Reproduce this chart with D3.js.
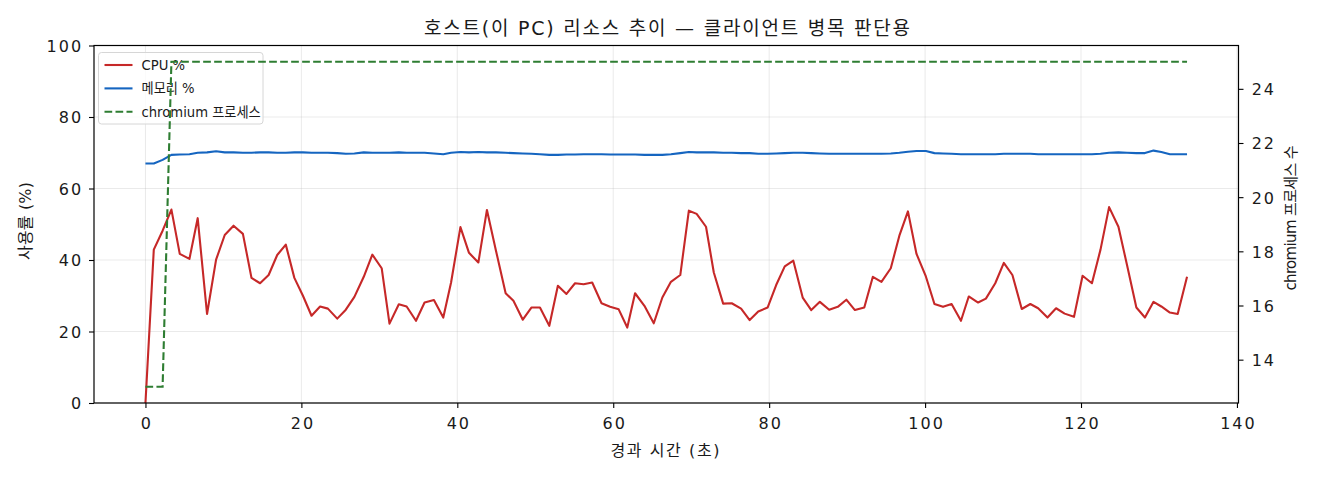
<!DOCTYPE html>
<html><head><meta charset="utf-8">
<script src="https://cdn.jsdelivr.net/npm/d3@7"></script>
<style>
html,body{margin:0;padding:0;background:#fff;}
text{font-family:"DejaVu Sans","Noto Sans CJK KR",sans-serif;fill:#1a1a1a;}
</style></head>
<body>
<svg id="chart" width="1320" height="480"></svg>
<script>
const times = [0,1.07,2.2,3.33,4.4,5.64,6.7,7.9,9.06,10.17,11.3,12.5,13.6,14.7,15.8,16.9,18.0,19.1,20.2,21.3,22.4,23.4,24.6,25.7,26.8,28.0,29.1,30.3,31.3,32.5,33.5,34.7,35.8,37.0,38.2,39.2,40.4,41.5,42.7,43.8,44.96,46.2,47.2,48.4,49.5,50.6,51.8,52.9,54.0,55.1,56.2,57.3,58.5,59.6,60.7,61.8,62.8,64.0,65.2,66.3,67.4,68.6,69.7,70.7,71.9,72.9,74.1,75.2,76.4,77.5,78.6,79.8,80.9,82.0,83.1,84.3,85.4,86.5,87.7,88.8,89.9,91.0,92.2,93.3,94.4,95.6,96.7,97.8,98.9,100.1,101.2,102.3,103.4,104.6,105.6,106.8,107.8,109.0,110.1,111.2,112.4,113.5,114.5,115.7,116.8,117.9,119.1,120.2,121.4,122.5,123.6,124.8,125.9,127.1,128.2,129.3,130.3,131.4,132.4,133.6];
const cpu = [0,42.9,48.2,54.1,41.7,40.3,51.7,24.9,40.1,47.0,49.6,47.3,35.0,33.5,35.8,41.4,44.3,35.0,30.0,24.4,27.0,26.4,23.6,26.1,29.7,35.3,41.5,37.7,22.2,27.6,27.0,23.0,28.1,28.8,23.9,33.7,49.2,42.0,39.3,54.0,42.6,30.7,28.6,23.3,26.7,26.7,21.6,32.8,30.5,33.5,33.2,33.7,27.9,26.9,26.2,21.1,30.7,27.2,22.3,29.5,33.9,35.8,53.8,52.9,49.3,36.5,27.8,27.9,26.4,23.2,25.6,26.7,33.0,38.2,39.8,29.5,26.0,28.3,26.1,26.9,28.9,26.0,26.7,35.3,33.9,37.7,46.8,53.6,41.7,35.4,27.7,26.9,27.7,23.0,29.8,28.1,29.2,33.5,39.2,35.8,26.3,27.7,26.5,23.9,26.5,25.0,24.1,35.6,33.5,42.9,54.8,49.3,38.6,26.7,23.9,28.3,27.0,25.3,24.9,35.3];
const memory = [67.0,67.0,68.0,69.4,69.5,69.6,70.0,70.1,70.4,70.1,70.1,70.0,70.0,70.1,70.1,70.0,70.0,70.1,70.1,70.0,70.0,70.0,69.9,69.7,69.8,70.1,70.0,70.0,70.0,70.1,70.0,70.0,70.0,69.8,69.6,70.0,70.2,70.1,70.2,70.1,70.1,70.0,69.9,69.8,69.7,69.6,69.4,69.4,69.5,69.5,69.6,69.6,69.6,69.5,69.5,69.5,69.5,69.4,69.4,69.4,69.6,69.9,70.2,70.1,70.1,70.1,70.0,70.0,69.9,69.9,69.7,69.7,69.8,69.9,70.0,70.0,69.9,69.8,69.7,69.7,69.7,69.7,69.7,69.7,69.7,69.8,70.0,70.3,70.5,70.5,69.9,69.8,69.7,69.6,69.6,69.6,69.6,69.6,69.7,69.7,69.7,69.7,69.6,69.6,69.6,69.6,69.6,69.6,69.6,69.7,70.0,70.1,70.0,69.9,69.9,70.6,70.2,69.6,69.6,69.6];
const chromium = [13,13,13,25,25,25,25,25,25,25,25,25,25,25,25,25,25,25,25,25,25,25,25,25,25,25,25,25,25,25,25,25,25,25,25,25,25,25,25,25,25,25,25,25,25,25,25,25,25,25,25,25,25,25,25,25,25,25,25,25,25,25,25,25,25,25,25,25,25,25,25,25,25,25,25,25,25,25,25,25,25,25,25,25,25,25,25,25,25,25,25,25,25,25,25,25,25,25,25,25,25,25,25,25,25,25,25,25,25,25,25,25,25,25,25,25,25,25,25,25];
const xTicks = [0,20,40,60,80,100,120,140];
const yTicks = [0,20,40,60,80,100];
const y2Ticks = [14,16,18,20,22,24];
const seriesNames = ["CPU %","메모리 %","chromium 프로세스"];
const titleText = "호스트(이 PC) 리소스 추이 — 클라이언트 병목 판단용";
const xLabel = "경과 시간 (초)";
const yLabel = "사용률 (%)";
const y2Label = "chromium 프로세스 수";

const svg = d3.select("#chart");
const L = 94, R = 1238.5, T = 45.5, B = 403;
const x = d3.scaleLinear().domain([-6.6, 140.2]).range([L, R]);
const y = d3.scaleLinear().domain([0, 100]).range([B, T]);
const y2 = d3.scaleLinear().domain([12.4, 25.6]).range([B, T]);
const colors = ["#c62828", "#1565c0", "#2e7d32"];

// grid
const grid = svg.append("g");
grid.selectAll(".gx").data(xTicks).join("line")
  .attr("x1", d => x(d)).attr("x2", d => x(d)).attr("y1", T).attr("y2", B)
  .attr("stroke", "#b0b0b0").attr("stroke-opacity", 0.3).attr("stroke-width", 0.9);
grid.selectAll(".gy").data(yTicks).join("line")
  .attr("x1", L).attr("x2", R).attr("y1", d => y(d)).attr("y2", d => y(d))
  .attr("stroke", "#b0b0b0").attr("stroke-opacity", 0.3).attr("stroke-width", 0.9);

const lineL = d3.line().x((d, i) => x(times[i])).y(d => y(d));
const lineR = d3.line().x((d, i) => x(times[i])).y(d => y2(d));

svg.append("path").datum(cpu).attr("d", lineL).attr("fill", "none")
  .attr("stroke", colors[0]).attr("stroke-width", 2.1).attr("stroke-linejoin", "round");
svg.append("path").datum(memory).attr("d", lineL).attr("fill", "none")
  .attr("stroke", colors[1]).attr("stroke-width", 2.1).attr("stroke-linejoin", "round");

// legend
const lg = svg.append("g").attr("transform", `translate(98.5,52.5)`);
lg.append("rect").attr("width", 164.5).attr("height", 71.5).attr("rx", 3)
  .attr("fill", "#fff").attr("fill-opacity", 0.8).attr("stroke", "#d6d6d6").attr("stroke-width", 1);
seriesNames.forEach((n, i) => {
  const yy = 12.5 + i * 23.4;
  lg.append("line").attr("x1", 6).attr("x2", 34).attr("y1", yy).attr("y2", yy)
    .attr("stroke", colors[i]).attr("stroke-width", 2.1)
    .attr("stroke-dasharray", i === 2 ? "7.7,3.3" : null);
  lg.append("text").attr("x", 43).attr("y", yy + 4.8).attr("font-size", 13.2).text(n);
});

svg.append("path").datum(chromium).attr("d", lineR).attr("fill", "none")
  .attr("stroke", colors[2]).attr("stroke-width", 2.1).attr("stroke-dasharray", "7.7,3.3");

// axes
const fmt = d3.format("d");
const ax = svg.append("g").attr("transform", `translate(0,${B})`)
  .call(d3.axisBottom(x).tickValues(xTicks).tickFormat(fmt).tickSize(5));
const ay = svg.append("g").attr("transform", `translate(${L},0)`)
  .call(d3.axisLeft(y).tickValues(yTicks).tickFormat(fmt).tickSize(5));
const ay2 = svg.append("g").attr("transform", `translate(${R},0)`)
  .call(d3.axisRight(y2).tickValues(y2Ticks).tickFormat(fmt).tickSize(5));
[ax, ay, ay2].forEach(a => {
  a.select(".domain").remove();
  a.selectAll("line").attr("stroke", "#000").attr("stroke-width", 1.1);
  a.selectAll("text").attr("font-size", 16).attr("fill", "#1a1a1a")
    .style("letter-spacing", "2px")
    .style("font-family", '"DejaVu Sans","Noto Sans CJK KR",sans-serif');
});
ax.selectAll("text").attr("y", 26.3).attr("dy", 0).attr("dx", 1);
ay.selectAll("text").attr("x", -10.9).attr("dy", "0.37em");
ay2.selectAll("text").attr("x", 13.2).attr("dy", "0.37em");

svg.append("rect").attr("x", L).attr("y", T).attr("width", R - L).attr("height", B - T)
  .attr("fill", "none").attr("stroke", "#000").attr("stroke-width", 1.2);

svg.append("text").attr("x", 667).attr("y", 35).attr("text-anchor", "middle")
  .attr("font-size", 19).attr("textLength", 486).attr("lengthAdjust", "spacing").text(titleText);
svg.append("text").attr("x", 665).attr("y", 456).attr("text-anchor", "middle")
  .attr("font-size", 16).attr("textLength", 109).attr("lengthAdjust", "spacing").text(xLabel);
svg.append("text").attr("transform", `translate(31,221) rotate(-90)`)
  .attr("text-anchor", "middle").attr("font-size", 16).attr("textLength", 78).attr("lengthAdjust", "spacing").text(yLabel);
svg.append("text").attr("transform", `translate(1295.5,218) rotate(-90)`)
  .attr("text-anchor", "middle").attr("font-size", 15).attr("textLength", 145).attr("lengthAdjust", "spacing").text(y2Label);
</script>
</body></html>
